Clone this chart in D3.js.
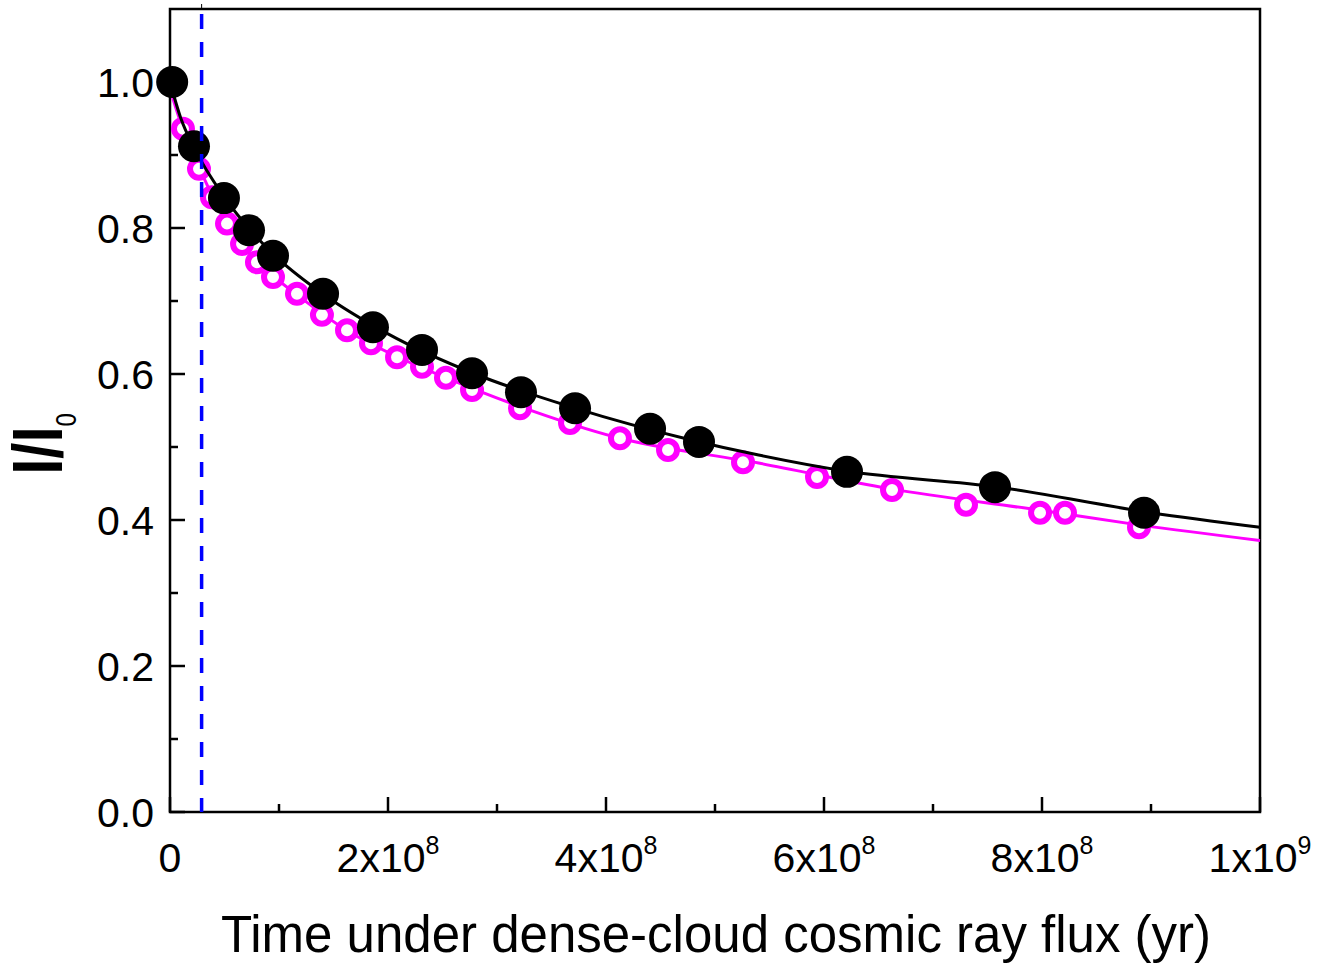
<!DOCTYPE html>
<html>
<head>
<meta charset="utf-8">
<script src="https://cdn.jsdelivr.net/npm/d3@7/dist/d3.min.js"></script>
<style>
html,body{margin:0;padding:0;background:#fff;}
svg{display:block;font-family:"Liberation Sans",Arial,sans-serif;}
</style>
</head>
<body>
<svg id="chart" width="1333" height="964"></svg>
<script>
// ---- data ----
const blackX = [2e6, 2.20e7, 4.95e7, 7.25e7, 9.45e7, 1.404e8, 1.862e8, 2.312e8, 2.771e8, 3.220e8, 3.716e8, 4.404e8, 4.853e8, 6.211e8, 7.569e8, 8.936e8];
const blackY = [1.0, 0.912, 0.841, 0.797, 0.762, 0.710, 0.664, 0.633, 0.601, 0.575, 0.553, 0.525, 0.507, 0.466, 0.445, 0.410];

const magentaX = [1.19e7, 2.66e7, 3.85e7, 5.23e7, 6.61e7, 7.98e7, 9.45e7, 1.165e8, 1.394e8, 1.624e8, 1.844e8, 2.083e8, 2.312e8, 2.532e8, 2.771e8, 3.211e8, 3.670e8, 4.128e8, 4.569e8, 5.257e8, 5.936e8, 6.624e8, 7.303e8, 7.982e8, 8.211e8, 8.890e8];
const magentaY = [0.936, 0.881, 0.842, 0.806, 0.778, 0.753, 0.733, 0.710, 0.681, 0.660, 0.642, 0.623, 0.610, 0.595, 0.578, 0.553, 0.533, 0.512, 0.496, 0.479, 0.459, 0.441, 0.421, 0.410, 0.410, 0.390];

// fitted curves
const blackFitX = [0, 1e7, 2.2e7, 5e7, 7.5e7, 1e8, 1.4e8, 2e8, 2.8e8, 3.7e8, 4.8e8, 5.4e8, 6.2e8, 7.6e8, 9e8, 1e9];
const blackFitY = [1.0, 0.950, 0.910, 0.842, 0.795, 0.757, 0.710, 0.655, 0.600, 0.554, 0.509, 0.489, 0.467, 0.445, 0.410, 0.390];
const magentaFitX = [0, 1.2e7, 2.7e7, 5.2e7, 8e7, 1.17e8, 1.62e8, 2.08e8, 2.53e8, 3.2e8, 4.1e8, 5.4e8, 6.6e8, 8e8, 8.9e8, 1e9];
const magentaFitY = [0.99, 0.935, 0.882, 0.807, 0.754, 0.708, 0.660, 0.624, 0.595, 0.556, 0.513, 0.478, 0.443, 0.413, 0.393, 0.372];

const markerLineX = 2.9e7;

const xMajorTicks = [0, 2e8, 4e8, 6e8, 8e8, 1e9];
const xMinorTicks = [1e8, 3e8, 5e8, 7e8, 9e8];
const xTickBase = ["0", "2x10", "4x10", "6x10", "8x10", "1x10"];
const xTickSup = ["", "8", "8", "8", "8", "9"];
const yMajorTicks = [0, 0.2, 0.4, 0.6, 0.8, 1.0];
const yMinorTicks = [0.1, 0.3, 0.5, 0.7, 0.9];
const yTickLabels = ["0.0", "0.2", "0.4", "0.6", "0.8", "1.0"];

const xTitle = "Time under dense-cloud cosmic ray flux (yr)";

// ---- layout ----
const L = 170, R = 1260, T = 9, B = 812;
const svg = d3.select("#chart");
const x = d3.scaleLinear().domain([0, 1e9]).range([L, R]);
const y = d3.scaleLinear().domain([0, 1.1]).range([B, T]);

// frame
svg.append("rect").attr("x", L).attr("y", T).attr("width", R - L).attr("height", B - T)
  .attr("fill", "none").attr("stroke", "#000").attr("stroke-width", 2.5);

// ticks (inward), drawn through the scales
const tk = svg.append("g").attr("stroke", "#000").attr("stroke-width", 2.5);
tk.selectAll(".xM").data(xMajorTicks).join("line")
  .attr("x1", d => x(d)).attr("x2", d => x(d)).attr("y1", B).attr("y2", B - 15);
tk.selectAll(".xm").data(xMinorTicks).join("line")
  .attr("x1", d => x(d)).attr("x2", d => x(d)).attr("y1", B).attr("y2", B - 8);
tk.selectAll(".yM").data(yMajorTicks).join("line")
  .attr("y1", d => y(d)).attr("y2", d => y(d)).attr("x1", L).attr("x2", L + 15);
tk.selectAll(".ym").data(yMinorTicks).join("line")
  .attr("y1", d => y(d)).attr("y2", d => y(d)).attr("x1", L).attr("x2", L + 8);

// tick labels
const xl = svg.append("g");
xMajorTicks.forEach((v, i) => {
  const t = xl.append("text").attr("x", x(v)).attr("y", 872).attr("text-anchor", "middle")
    .attr("font-size", 41).attr("fill", "#000");
  t.append("tspan").text(xTickBase[i]);
  if (xTickSup[i]) t.append("tspan").attr("font-size", 25).attr("dy", -18).text(xTickSup[i]);
});
const yl = svg.append("g");
yMajorTicks.forEach((v, i) => {
  yl.append("text").attr("x", 154).attr("y", y(v) + 15).attr("text-anchor", "end")
    .attr("font-size", 41).attr("fill", "#000").text(yTickLabels[i]);
});

// axis titles
svg.append("text").attr("x", 716).attr("y", 952).attr("text-anchor", "middle")
  .attr("font-size", 51).attr("fill", "#000").text(xTitle);
const yt = svg.append("text").attr("transform", "translate(62,444) rotate(-90) scale(1,1.2)")
  .attr("text-anchor", "middle").attr("font-weight", "bold").attr("font-size", 58).attr("fill", "#000");
yt.append("tspan").text("I/I");
yt.append("tspan").attr("font-size", 24).attr("font-weight", "normal").attr("dy", 12).text("0");

// curves
const line = d3.line().x(d => x(d[0])).y(d => y(d[1])).curve(d3.curveMonotoneX);
svg.append("path").datum(magentaFitX.map((v, i) => [v, magentaFitY[i]]))
  .attr("d", line).attr("fill", "none").attr("stroke", "#ff00ff").attr("stroke-width", 3);
svg.append("g").selectAll("circle").data(magentaX.map((v, i) => [v, magentaY[i]])).join("circle")
  .attr("cx", d => x(d[0])).attr("cy", d => y(d[1])).attr("r", 9)
  .attr("fill", "#fff").attr("stroke", "#ff00ff").attr("stroke-width", 6);
svg.append("path").datum(blackFitX.map((v, i) => [v, blackFitY[i]]))
  .attr("d", line).attr("fill", "none").attr("stroke", "#000").attr("stroke-width", 3);
svg.append("g").selectAll("circle").data(blackX.map((v, i) => [v, blackY[i]])).join("circle")
  .attr("cx", d => x(d[0])).attr("cy", d => y(d[1])).attr("r", 16).attr("fill", "#000");

// vertical dashed marker
svg.append("line").attr("x1", x(markerLineX)).attr("x2", x(markerLineX)).attr("y1", T + 5).attr("y2", B)
  .attr("stroke", "#0000ff").attr("stroke-width", 3.5).attr("stroke-dasharray", "15,13");
svg.append("line").attr("x1", x(markerLineX)).attr("x2", x(markerLineX)).attr("y1", 4).attr("y2", T)
  .attr("stroke", "#000").attr("stroke-width", 1);
</script>
</body>
</html>
